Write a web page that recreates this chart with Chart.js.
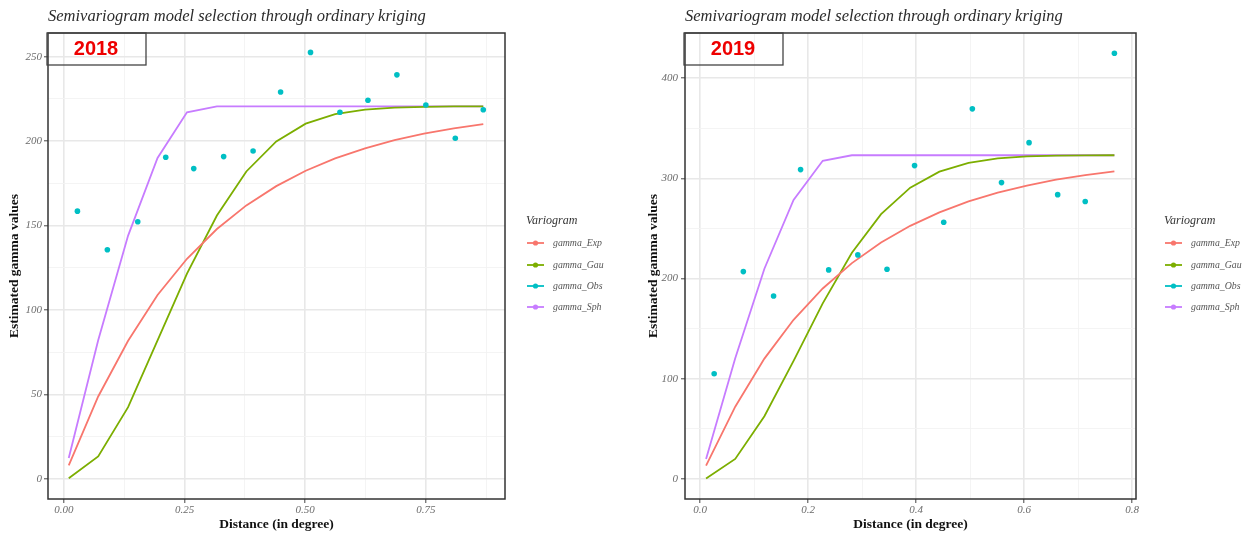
<!DOCTYPE html>
<html>
<head>
<meta charset="utf-8">
<script src="https://cdn.jsdelivr.net/npm/chart.js@4.4.0/dist/chart.umd.min.js"></script>
<style>
html, body { margin:0; padding:0; background:#fff; }
#wrap { position:relative; width:1248px; height:536px; overflow:hidden; }
canvas { position:absolute; top:0; }
</style>
</head>
<body>
<div id="wrap">
  <canvas id="c2018" width="640" height="536" style="left:0"></canvas>
  <canvas id="c2019" width="608" height="536" style="left:640px"></canvas>
</div>
<script>
var TITLE = 'Semivariogram model selection through ordinary kriging';
var X_TITLE = 'Distance (in degree)';
var Y_TITLE = 'Estimated gamma values';
var LEGEND_TITLE = 'Variogram';
var SERIES = ['gamma_Exp', 'gamma_Gau', 'gamma_Obs', 'gamma_Sph'];
var COLORS = ['#F8766D', '#7CAE00', '#00BFC4', '#C77CFF'];

// 2018
var DIST_2018 = [0.010, 0.071, 0.133, 0.194, 0.255, 0.317, 0.378, 0.440, 0.501, 0.562, 0.624, 0.685, 0.746, 0.808, 0.869];
var EXP_2018 = [7.9, 48.7, 81.7, 108.8, 130.3, 147.9, 161.9, 173.3, 182.4, 189.7, 195.7, 200.5, 204.4, 207.5, 210.0];
var GAU_2018 = [0.3, 13.2, 42.4, 82.0, 121.5, 155.9, 182.0, 199.8, 210.3, 215.9, 218.6, 219.8, 220.3, 220.5, 220.5];
var SPH_2018 = [12.3, 82.0, 144.0, 190.0, 217.0, 220.5, 220.5, 220.5, 220.5, 220.5, 220.5, 220.5, 220.5, 220.5, 220.5];
var OBS_X_2018 = [0.028, 0.090, 0.153, 0.211, 0.269, 0.331, 0.392, 0.449, 0.511, 0.572, 0.630, 0.690, 0.750, 0.811, 0.869];
var OBS_Y_2018 = [158.5, 135.6, 152.2, 190.4, 183.7, 190.8, 194.1, 229.1, 252.5, 217.1, 224.2, 239.2, 221.4, 201.7, 218.5];
var X_TICKS_2018 = [0, 0.25, 0.5, 0.75];
var X_MINOR_2018 = [0.125, 0.375, 0.625, 0.875];
var Y_TICKS_2018 = [0, 50, 100, 150, 200, 250];
var Y_MINOR_2018 = [25, 75, 125, 175, 225];

// 2019
var DIST_2019 = [0.011, 0.065, 0.119, 0.173, 0.227, 0.281, 0.335, 0.389, 0.443, 0.497, 0.551, 0.605, 0.659, 0.713, 0.767];
var EXP_2019 = [13.3, 72.1, 120.1, 158.8, 190.1, 215.4, 236.0, 252.6, 266.0, 276.9, 285.7, 292.8, 298.6, 303.2, 307.0];
var GAU_2019 = [0.5, 20.0, 62.6, 117.8, 175.2, 225.7, 264.3, 290.7, 306.7, 315.5, 319.8, 321.8, 322.6, 322.9, 323.0];
var SPH_2019 = [20.0, 120.4, 209.8, 278.5, 317.5, 323.0, 323.0, 323.0, 323.0, 323.0, 323.0, 323.0, 323.0, 323.0, 323.0];
var OBS_X_2019 = [0.026, 0.080, 0.136, 0.186, 0.238, 0.292, 0.346, 0.397, 0.451, 0.504, 0.558, 0.609, 0.662, 0.713, 0.767];
var OBS_Y_2019 = [105.0, 206.9, 182.6, 308.7, 208.6, 223.6, 209.3, 312.7, 256.2, 369.3, 295.7, 335.6, 283.7, 276.8, 424.8];
var X_TICKS_2019 = [0, 0.2, 0.4, 0.6, 0.8];
var X_MINOR_2019 = [0.1, 0.3, 0.5, 0.7];
var Y_TICKS_2019 = [0, 100, 200, 300, 400];
var Y_MINOR_2019 = [50, 150, 250, 350];

function pairs(xs, ys) {
  var out = [];
  for (var i = 0; i < xs.length; i++) out.push({x: xs[i], y: ys[i]});
  return out;
}

function lineSet(label, color, xs, ys) {
  return {
    label: label, data: pairs(xs, ys), showLine: true,
    borderColor: color, borderWidth: 1.8, pointRadius: 0,
    backgroundColor: color, order: 1
  };
}

//title, year box, panel border and legend
var decor = {
  id: 'decor',
  afterDraw: function(chart) {
    var o = chart.options.plugins.decor;
    var ctx = chart.ctx, a = chart.chartArea;
    ctx.save();
    ctx.strokeStyle = '#333';
    ctx.lineWidth = 1.5;
    ctx.strokeRect(a.left, a.top, a.right - a.left, a.bottom - a.top);

    ctx.fillStyle = '#2b2b2b';
    ctx.font = 'italic 16.5px "Liberation Serif"';
    ctx.textAlign = 'left';
    ctx.textBaseline = 'alphabetic';
    ctx.fillText(TITLE, a.left, 21);

    ctx.strokeStyle = '#444';
    ctx.lineWidth = 1.3;
    ctx.strokeRect(a.left - 1, a.top, 99, 32);
    ctx.fillStyle = '#ee0000';
    ctx.font = 'bold 20px "Liberation Sans"';
    ctx.textAlign = 'center';
    ctx.textBaseline = 'middle';
    ctx.fillText(o.year, a.left - 1 + o.yearX, a.top + 16);

    // legend
    var lx = o.legendX;
    ctx.textAlign = 'left';
    ctx.fillStyle = '#333';
    ctx.font = 'italic 12px "Liberation Serif"';
    ctx.fillText(LEGEND_TITLE, lx - 1, 221);
    var rows = [243, 265, 286, 307];
    for (var i = 0; i < SERIES.length; i++) {
      ctx.strokeStyle = COLORS[i];
      ctx.lineWidth = 1.8;
      ctx.beginPath();
      ctx.moveTo(lx, rows[i]);
      ctx.lineTo(lx + 17, rows[i]);
      ctx.stroke();
      ctx.fillStyle = COLORS[i];
      ctx.beginPath();
      ctx.arc(lx + 8.5, rows[i], 2.6, 0, Math.PI * 2);
      ctx.fill();
      ctx.fillStyle = '#555';
      ctx.font = 'italic 9.8px "Liberation Serif"';
      ctx.fillText(SERIES[i], lx + 26, rows[i]);
    }
    ctx.restore();
  }
};

function axis(range, major, minor, fmt, isX, width, labelPad, titlePad) {
  var all = major.concat(minor).sort(function(p, q) { return p - q; });
  return {
    type: 'linear', min: range[0], max: range[1],
    afterBuildTicks: function(scale) {
      scale.ticks = all.map(function(v) { return {value: v}; });
    },
    afterFit: function(scale) {
      if (isX) {
        scale.height = width;
        scale.paddingLeft = 0;
        scale.paddingRight = 0;
      } else {
        scale.width = width;
        scale.paddingTop = 0;
        scale.paddingBottom = 0;
      }
    },
    border: {display: false},
    grid: {
      color: function(c) { return major.indexOf(c.tick.value) >= 0 ? '#e8e8e8' : '#f3f3f3'; },
      lineWidth: function(c) { return major.indexOf(c.tick.value) >= 0 ? 1.6 : 0.9; },
      tickColor: function(c) { return major.indexOf(c.tick.value) >= 0 ? '#444' : 'rgba(0,0,0,0)'; },
      tickLength: 4,
      tickWidth: 1
    },
    ticks: {
      autoSkip: false, maxRotation: 0, padding: labelPad, color: '#6b6b6b',
      font: {family: 'Liberation Serif', style: 'italic', size: 11},
      callback: function(v) { return major.indexOf(v) >= 0 ? fmt(v) : ''; }
    },
    title: {
      display: true, text: isX ? X_TITLE : Y_TITLE, color: '#111',
      font: {family: 'Liberation Serif', weight: 'bold', size: 13.5},
      padding: isX ? {top: 0, bottom: titlePad} : {top: titlePad, bottom: 0}
    }
  };
}

function makeChart(id, p) {
  return new Chart(document.getElementById(id), {
    type: 'scatter',
    data: {
      datasets: [
        lineSet(SERIES[0], COLORS[0], p.dist, p.exp),
        lineSet(SERIES[1], COLORS[1], p.dist, p.gau),
        {label: SERIES[2], data: pairs(p.obsX, p.obsY), showLine: false,
         pointRadius: 2.8, borderWidth: 0, backgroundColor: COLORS[2], order: 0},
        lineSet(SERIES[3], COLORS[3], p.dist, p.sph)
      ]
    },
    options: {
      responsive: false, animation: false, devicePixelRatio: 1,
      layout: {padding: {left: 0, top: 33, right: p.padRight, bottom: 0}},
      plugins: {
        legend: {display: false}, tooltip: {enabled: false},
        decor: {year: p.year, yearX: 49, legendX: p.legendX}
      },
      scales: {
        x: axis(p.xRange, p.xTicks, p.xMinor, p.xFmt, true, 37, 1, 3),
        y: axis(p.yRange, p.yTicks, p.yMinor, function(v) { return String(v); }, false, p.yWidth, p.yPad, p.yTitlePad)
      }
    },
    plugins: [decor]
  });
}

makeChart('c2018', {
  year: '2018', dist: DIST_2018, exp: EXP_2018, gau: GAU_2018, sph: SPH_2018,
  obsX: OBS_X_2018, obsY: OBS_Y_2018,
  xRange: [-0.033, 0.914], yRange: [-12, 264],
  xTicks: X_TICKS_2018, xMinor: X_MINOR_2018, yTicks: Y_TICKS_2018, yMinor: Y_MINOR_2018,
  xFmt: function(v) { return v.toFixed(2); },
  padRight: 135, yWidth: 48, yPad: 2, yTitlePad: 6, legendX: 527
});

makeChart('c2019', {
  year: '2019', dist: DIST_2019, exp: EXP_2019, gau: GAU_2019, sph: SPH_2019,
  obsX: OBS_X_2019, obsY: OBS_Y_2019,
  xRange: [-0.028, 0.807], yRange: [-20, 445],
  xTicks: X_TICKS_2019, xMinor: X_MINOR_2019, yTicks: Y_TICKS_2019, yMinor: Y_MINOR_2019,
  xFmt: function(v) { return v.toFixed(1); },
  padRight: 112, yWidth: 45, yPad: 3, yTitlePad: 5, legendX: 525
});
</script>
</body>
</html>
